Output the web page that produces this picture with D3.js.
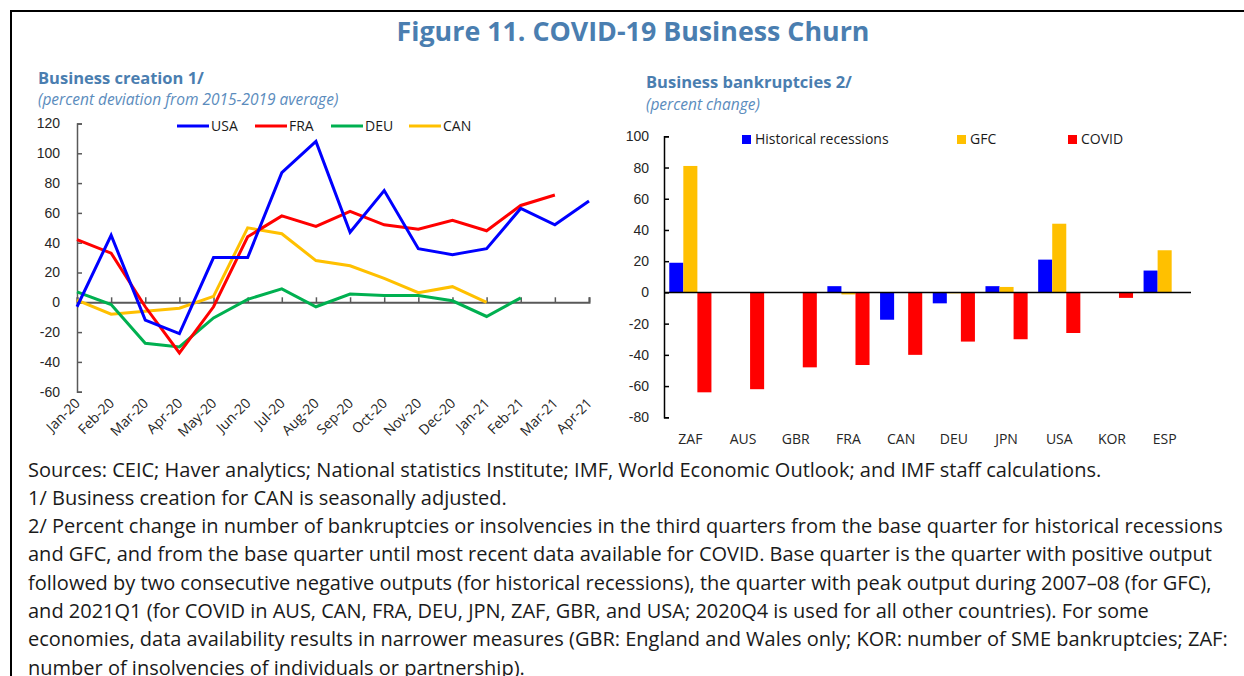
<!DOCTYPE html>
<html>
<head>
<meta charset="utf-8">
<script src="https://cdn.jsdelivr.net/npm/d3@7"></script>
<style>
  body { margin: 0; background: #fff; }
  svg { display: block; font-family: "Open Sans", "Noto Sans", sans-serif; }
</style>
</head>
<body>
<svg id="chart"></svg>
<script>
// Business creation (percent deviation from 2015-2019 average)
const months = ["Jan-20", "Feb-20", "Mar-20", "Apr-20", "May-20", "Jun-20", "Jul-20", "Aug-20",
  "Sep-20", "Oct-20", "Nov-20", "Dec-20", "Jan-21", "Feb-21", "Mar-21", "Apr-21"];
const usa = [-3, 45, -12, -21, 30, 30, 87, 108, 47, 75, 36, 32, 36, 63, 52, 68];
const fra = [42, 33, -3, -34, -3, 44, 58, 51, 61, 52, 49, 55, 48, 65, 72, null];
const deu = [7, -1.5, -27.5, -30, -10.5, 2, 9, -3, 5.5, 4.5, 4.5, 1, -9.5, 3, null, null];
const can = [1.5, -8, -6, -4, 4, 50, 46, 28, 24.5, 16, 6.5, 10.5, 0, null, null, null];
const lineTicks = [-60, -40, -20, 0, 20, 40, 60, 80, 100, 120];

// Business bankruptcies (percent change)
const countries = ["ZAF", "AUS", "GBR", "FRA", "CAN", "DEU", "JPN", "USA", "KOR", "ESP"];
const historical = [19, null, null, 4, -17.5, -7, 4, 21, null, 14];
const gfc = [81, null, null, -1.3, null, -0.6, 3.5, 44, null, 27];
const covid = [-64, -62, -48, -46.5, -40, -31.5, -30, -26, -3.5, null];
const barTicks = [-80, -60, -40, -20, 0, 20, 40, 60, 80, 100];

const notes = [
  "Sources: CEIC; Haver analytics; National statistics Institute; IMF, World Economic Outlook; and IMF staff calculations.",
  "1/ Business creation for CAN is seasonally adjusted.",
  "2/ Percent change in number of bankruptcies or insolvencies in the third quarters from the base quarter for historical recessions",
  "and GFC, and from the base quarter until most recent data available for COVID. Base quarter is the quarter with positive output",
  "followed by two consecutive negative outputs (for historical recessions), the quarter with peak output during 2007\u201308 (for GFC),",
  "and 2021Q1 (for COVID in AUS, CAN, FRA, DEU, JPN, ZAF, GBR, and USA; 2020Q4 is used for all other countries). For some",
  "economies, data availability results in narrower measures (GBR: England and Wales only; KOR: number of SME bankruptcies; ZAF:",
  "number of insolvencies of individuals or partnership)."
];

const W = 1244, H = 676;
const titleColor = "#4a7eb0";
const svg = d3.select("#chart").attr("width", W).attr("height", H);

// frame (top and left edges visible)
svg.append("line").attr("x1", 10).attr("x2", W).attr("y1", 11).attr("y2", 11)
  .attr("stroke", "#000").attr("stroke-width", 2);
svg.append("line").attr("x1", 11).attr("x2", 11).attr("y1", 10).attr("y2", H)
  .attr("stroke", "#000").attr("stroke-width", 2);

svg.append("text")
  .attr("x", 633).attr("y", 41)
  .attr("text-anchor", "middle")
  .attr("font-size", 26.8).attr("font-weight", "bold")
  .attr("fill", titleColor)
  .text("Figure 11. COVID-19 Business Churn");

// ---------- Left panel: line chart ----------
svg.append("text").attr("x", 38).attr("y", 84)
  .attr("font-size", 16.5).attr("font-weight", "bold").attr("fill", titleColor)
  .text("Business creation 1/");
svg.append("text").attr("x", 38).attr("y", 105)
  .attr("font-size", 15.5).attr("font-style", "italic").attr("fill", "#5b8cbd")
  .text("(percent deviation from 2015-2019 average)");

const x1 = d3.scalePoint().domain(months).range([77, 589]);
const y1 = d3.scaleLinear().domain([-60, 120]).range([391.7, 123.5]);

const yAxis1 = svg.append("g").attr("transform", "translate(77,0)")
  .call(d3.axisLeft(y1).tickValues(lineTicks).tickSize(-5).tickPadding(17).tickFormat(d => d));
yAxis1.select(".domain").attr("stroke", "#595959").attr("stroke-width", 1.5);
yAxis1.selectAll(".tick line").attr("stroke", "#595959").attr("stroke-width", 1.5);
yAxis1.selectAll(".tick text").attr("font-size", 14).attr("fill", "#262626")
  .attr("font-family", "inherit");

const xAxis1 = svg.append("g").attr("transform", `translate(0,${y1(0)})`)
  .call(d3.axisBottom(x1).tickSize(-5).tickFormat(""));
xAxis1.select(".domain").attr("stroke", "#595959").attr("stroke-width", 2);
xAxis1.selectAll(".tick line").attr("stroke", "#595959").attr("stroke-width", 1.5);

svg.append("g").selectAll("text")
  .data(months)
  .enter()
  .append("text")
  .attr("transform", d => `translate(${x1(d) + 4},${404}) rotate(-45)`)
  .attr("text-anchor", "end")
  .attr("font-size", 14)
  .attr("fill", "#262626")
  .text(d => d);

const lineSeries = [
  { name: "USA", values: usa, color: "#0000ff" },
  { name: "FRA", values: fra, color: "#ff0000" },
  { name: "DEU", values: deu, color: "#00b050" },
  { name: "CAN", values: can, color: "#ffc000" }
];
const line = d3.line()
  .defined(d => d != null)
  .x((d, i) => x1(months[i]))
  .y(d => y1(d));

svg.append("g").selectAll("path")
  .data(lineSeries.slice().reverse())
  .enter()
  .append("path")
  .attr("d", d => line(d.values))
  .attr("fill", "none")
  .attr("stroke", d => d.color)
  .attr("stroke-width", 3)
  .attr("stroke-linejoin", "miter");

const legX = [177, 255, 331, 409];
const leg1 = svg.append("g").selectAll("g")
  .data(lineSeries)
  .enter()
  .append("g")
  .attr("transform", (d, i) => `translate(${legX[i]},126)`);
leg1.append("line").attr("x1", 0).attr("x2", 32)
  .attr("stroke", d => d.color).attr("stroke-width", 3);
leg1.append("text").attr("x", 34).attr("y", 5)
  .attr("font-size", 14).attr("fill", "#1a1a1a")
  .text(d => d.name);

// ---------- Right panel: grouped bars ----------
svg.append("text").attr("x", 646).attr("y", 88)
  .attr("font-size", 16.5).attr("font-weight", "bold").attr("fill", titleColor)
  .text("Business bankruptcies 2/");
svg.append("text").attr("x", 646).attr("y", 110)
  .attr("font-size", 15.5).attr("font-style", "italic").attr("fill", "#5b8cbd")
  .text("(percent change)");

const x2 = d3.scaleBand().domain(countries).range([664, 1191]).paddingInner(0.2).paddingOuter(0.1);
const barSeries = [
  { name: "Historical recessions", values: historical, color: "#0000ff" },
  { name: "GFC", values: gfc, color: "#ffc000" },
  { name: "COVID", values: covid, color: "#ff0000" }
];
const xs = d3.scaleBand().domain(barSeries.map(d => d.name)).range([0, x2.bandwidth()]);
const y2 = d3.scaleLinear().domain([-80, 100]).range([417.3, 136.3]);

const yAxis2 = svg.append("g").attr("transform", "translate(664,0)")
  .call(d3.axisLeft(y2).tickValues(barTicks).tickSize(-5).tickPadding(15).tickFormat(d => d));
yAxis2.select(".domain").attr("stroke", "#000").attr("stroke-width", 1.5);
yAxis2.selectAll(".tick line").attr("stroke", "#000").attr("stroke-width", 1.5);
yAxis2.selectAll(".tick text").attr("font-size", 14).attr("fill", "#262626")
  .attr("font-family", "inherit");

const groups = svg.append("g").selectAll("g")
  .data(barSeries)
  .enter()
  .append("g")
  .attr("fill", d => d.color);
groups.selectAll("rect")
  .data(s => s.values.map((v, i) => ({ s: s.name, c: countries[i], v })).filter(d => d.v != null))
  .enter()
  .append("rect")
  .attr("x", d => x2(d.c) + xs(d.s))
  .attr("width", xs.bandwidth())
  .attr("y", d => y2(Math.max(0, d.v)))
  .attr("height", d => Math.abs(y2(d.v) - y2(0)));

svg.append("line")
  .attr("x1", 664).attr("x2", 1191)
  .attr("y1", y2(0)).attr("y2", y2(0))
  .attr("stroke", "#000").attr("stroke-width", 1.5);

svg.append("g").selectAll("text")
  .data(countries)
  .enter()
  .append("text")
  .attr("x", d => x2(d) + x2.bandwidth() / 2)
  .attr("y", 444)
  .attr("text-anchor", "middle")
  .attr("font-size", 14)
  .attr("fill", "#262626")
  .text(d => d);

const leg2X = [742, 957, 1068];
const leg2 = svg.append("g").selectAll("g")
  .data(barSeries)
  .enter()
  .append("g")
  .attr("transform", (d, i) => `translate(${leg2X[i]},135)`);
leg2.append("rect").attr("width", 9).attr("height", 9).attr("fill", d => d.color);
leg2.append("text").attr("x", 13).attr("y", 9)
  .attr("font-size", 14).attr("fill", "#1a1a1a")
  .text(d => d.name);

// ---------- Notes ----------
const noteText = svg.append("g").selectAll("text")
  .data(notes)
  .enter()
  .append("text")
  .attr("x", 28)
  .attr("y", (d, i) => 476.5 + i * 28.3)
  .attr("font-size", 17.5)
  .attr("fill", "#1a1a1a")
  .text(d => d);

// scale the notes so the longest line spans the same width as the original
const longest = noteText.nodes()[2].getComputedTextLength();
noteText.attr("font-size", 17.5 * 1195 / longest);
</script>
</body>
</html>
